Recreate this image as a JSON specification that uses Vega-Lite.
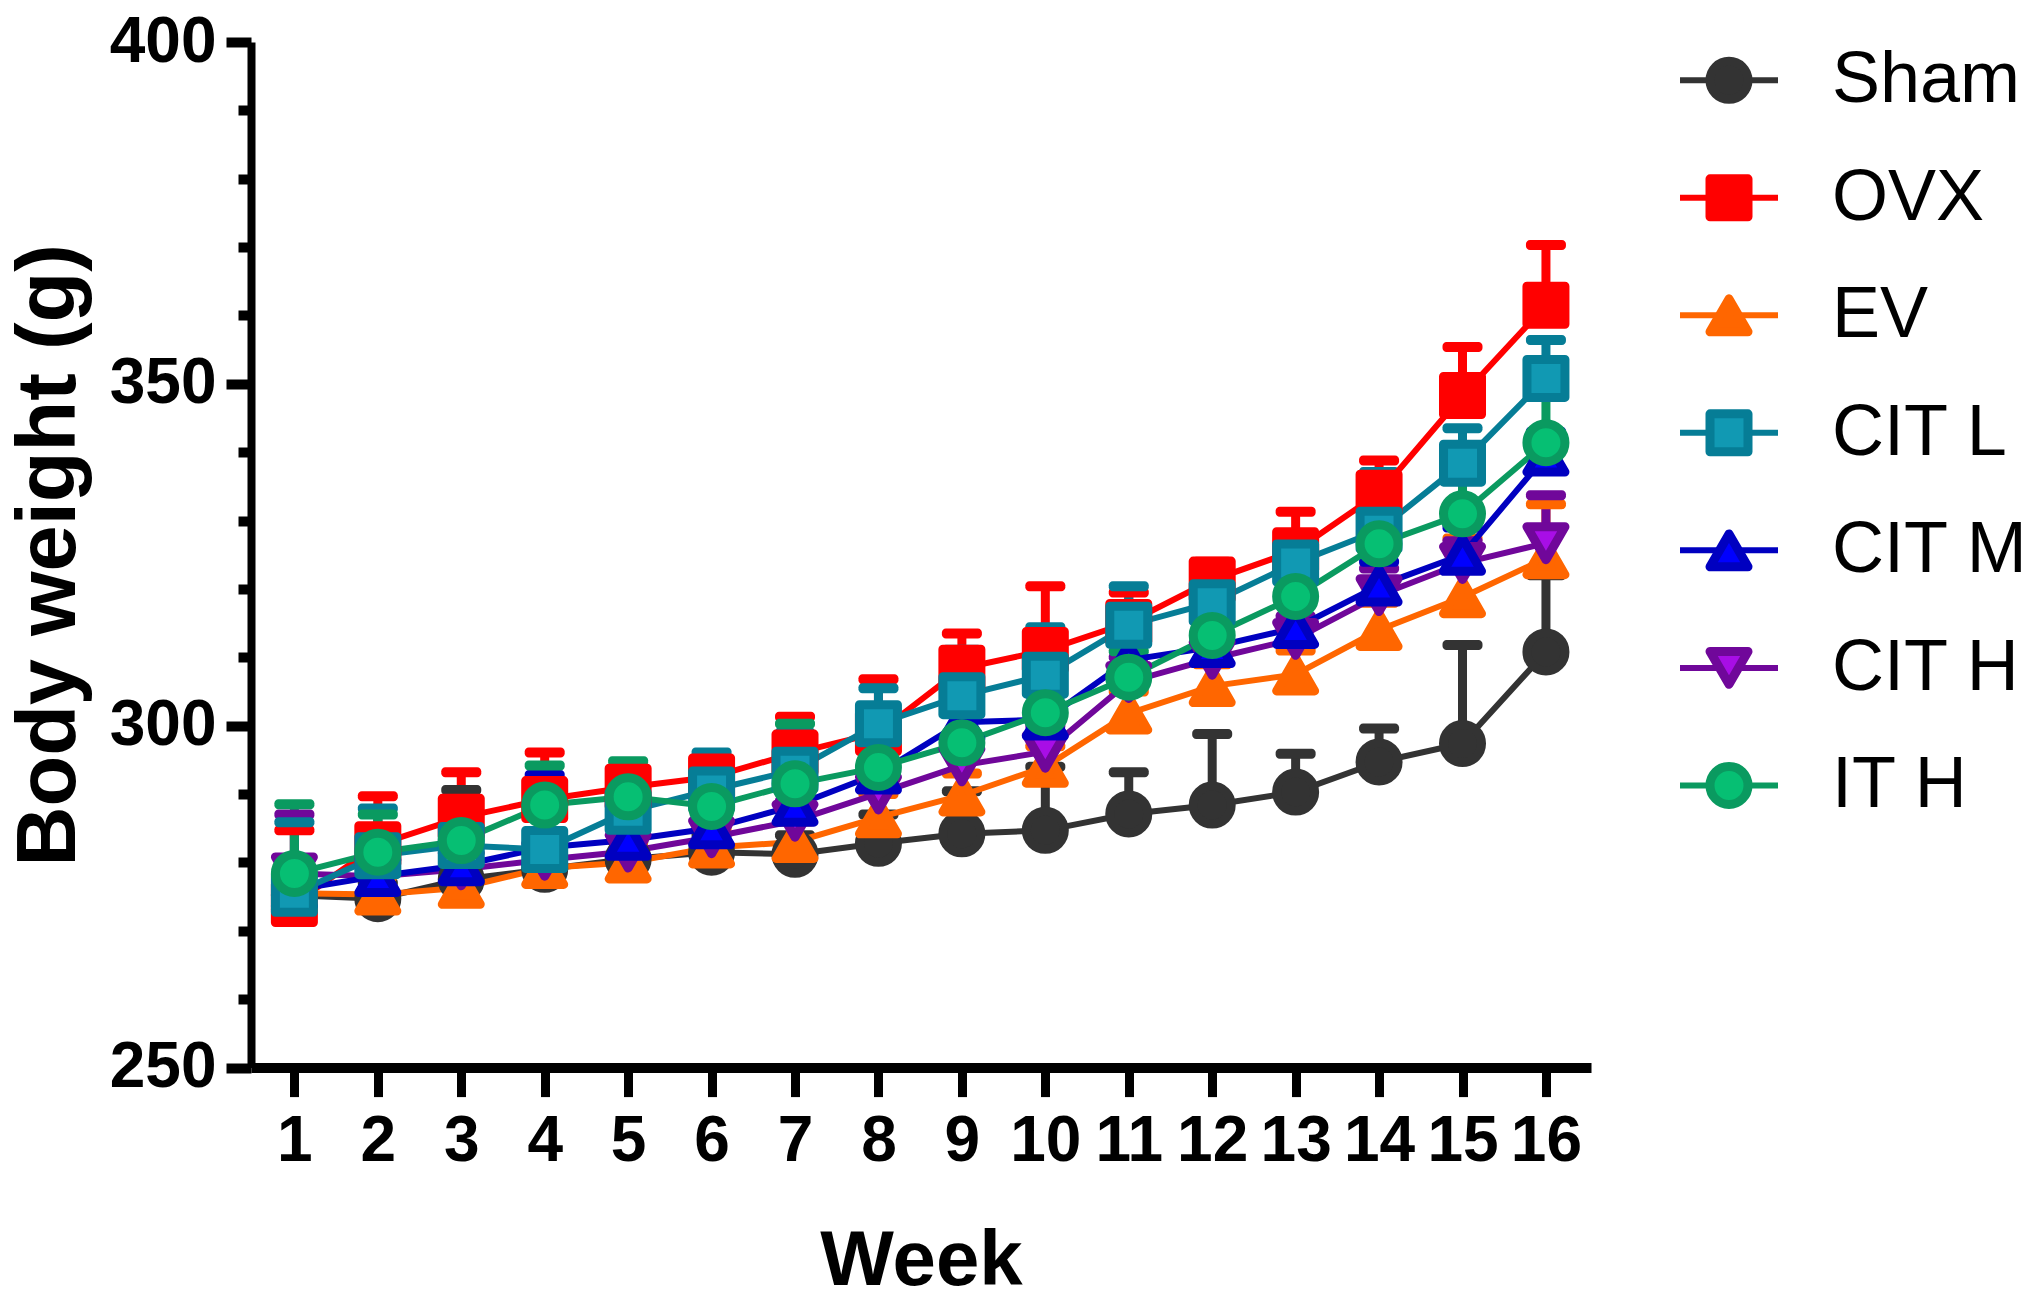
{
  "$schema": "https://vega.github.io/schema/vega-lite/v6.json",
  "background": "white",
  "padding": {"left": 8, "top": 10, "right": 0, "bottom": 0},
  "bounds": "flush",
  "spacing": 89,
  "config": {
    "view": {"stroke": null},
    "axis": {
      "grid": false,
      "domainColor": "black",
      "tickColor": "black",
      "labelColor": "black",
      "titleColor": "black"
    }
  },
  "datasets": {
    "bw": [
      {"g": "Sham", "w": 1, "m": 275.2, "hi": 277},
      {"g": "Sham", "w": 2, "m": 274.7, "hi": 277},
      {"g": "Sham", "w": 3, "m": 277.5, "hi": 290.6},
      {"g": "Sham", "w": 4, "m": 279, "hi": 281},
      {"g": "Sham", "w": 5, "m": 280.5, "hi": 283},
      {"g": "Sham", "w": 6, "m": 281.5, "hi": 284},
      {"g": "Sham", "w": 7, "m": 281.2, "hi": 284},
      {"g": "Sham", "w": 8, "m": 282.8, "hi": 287},
      {"g": "Sham", "w": 9, "m": 284.2, "hi": 290.4},
      {"g": "Sham", "w": 10, "m": 284.7, "hi": 294},
      {"g": "Sham", "w": 11, "m": 287.1, "hi": 293.2},
      {"g": "Sham", "w": 12, "m": 288.4, "hi": 298.8},
      {"g": "Sham", "w": 13, "m": 290.3, "hi": 295.9},
      {"g": "Sham", "w": 14, "m": 294.7, "hi": 299.6},
      {"g": "Sham", "w": 15, "m": 297.4, "hi": 311.8},
      {"g": "Sham", "w": 16, "m": 310.8, "hi": 322},
      {"g": "OVX", "w": 1, "m": 274, "hi": 284.7},
      {"g": "OVX", "w": 2, "m": 282.6, "hi": 289.7},
      {"g": "OVX", "w": 3, "m": 286.6, "hi": 293.2},
      {"g": "OVX", "w": 4, "m": 289.2, "hi": 296.1},
      {"g": "OVX", "w": 5, "m": 291, "hi": 294},
      {"g": "OVX", "w": 6, "m": 292.5, "hi": 295},
      {"g": "OVX", "w": 7, "m": 296, "hi": 301.3},
      {"g": "OVX", "w": 8, "m": 299, "hi": 306.8},
      {"g": "OVX", "w": 9, "m": 308.4, "hi": 313.5},
      {"g": "OVX", "w": 10, "m": 311, "hi": 320.4},
      {"g": "OVX", "w": 11, "m": 315.1, "hi": 319.5},
      {"g": "OVX", "w": 12, "m": 321.3, "hi": 324},
      {"g": "OVX", "w": 13, "m": 325.6, "hi": 331.3},
      {"g": "OVX", "w": 14, "m": 334, "hi": 338.8},
      {"g": "OVX", "w": 15, "m": 348.3, "hi": 355.4},
      {"g": "OVX", "w": 16, "m": 361.5, "hi": 370.3},
      {"g": "EV", "w": 1, "m": 275.5, "hi": 278},
      {"g": "EV", "w": 2, "m": 275.3, "hi": 278},
      {"g": "EV", "w": 3, "m": 276.3, "hi": 279},
      {"g": "EV", "w": 4, "m": 279.2, "hi": 282},
      {"g": "EV", "w": 5, "m": 280, "hi": 283},
      {"g": "EV", "w": 6, "m": 282.2, "hi": 285},
      {"g": "EV", "w": 7, "m": 283, "hi": 286},
      {"g": "EV", "w": 8, "m": 286.6, "hi": 290},
      {"g": "EV", "w": 9, "m": 289.8, "hi": 293},
      {"g": "EV", "w": 10, "m": 294, "hi": 297},
      {"g": "EV", "w": 11, "m": 301.8, "hi": 305},
      {"g": "EV", "w": 12, "m": 305.8, "hi": 309},
      {"g": "EV", "w": 13, "m": 307.5, "hi": 311},
      {"g": "EV", "w": 14, "m": 314, "hi": 318},
      {"g": "EV", "w": 15, "m": 318.8, "hi": 327.4},
      {"g": "EV", "w": 16, "m": 324.5, "hi": 332.4},
      {"g": "CIT H", "w": 1, "m": 278.4, "hi": 287},
      {"g": "CIT H", "w": 2, "m": 278, "hi": 281},
      {"g": "CIT H", "w": 3, "m": 279, "hi": 282},
      {"g": "CIT H", "w": 4, "m": 280.4, "hi": 283},
      {"g": "CIT H", "w": 5, "m": 281.6, "hi": 284},
      {"g": "CIT H", "w": 6, "m": 283.7, "hi": 287},
      {"g": "CIT H", "w": 7, "m": 286.1, "hi": 289},
      {"g": "CIT H", "w": 8, "m": 290.1, "hi": 293},
      {"g": "CIT H", "w": 9, "m": 294.2, "hi": 297},
      {"g": "CIT H", "w": 10, "m": 296.2, "hi": 300},
      {"g": "CIT H", "w": 11, "m": 306.4, "hi": 310},
      {"g": "CIT H", "w": 12, "m": 309.8, "hi": 313},
      {"g": "CIT H", "w": 13, "m": 312.7, "hi": 316},
      {"g": "CIT H", "w": 14, "m": 319.1, "hi": 323},
      {"g": "CIT H", "w": 15, "m": 323.8, "hi": 327},
      {"g": "CIT H", "w": 16, "m": 326.7, "hi": 333.7},
      {"g": "CIT M", "w": 1, "m": 276, "hi": 279},
      {"g": "CIT M", "w": 2, "m": 278, "hi": 281},
      {"g": "CIT M", "w": 3, "m": 279.6, "hi": 283},
      {"g": "CIT M", "w": 4, "m": 282.2, "hi": 292.8},
      {"g": "CIT M", "w": 5, "m": 283.3, "hi": 291.5},
      {"g": "CIT M", "w": 6, "m": 285, "hi": 288},
      {"g": "CIT M", "w": 7, "m": 288.3, "hi": 292},
      {"g": "CIT M", "w": 8, "m": 293, "hi": 297},
      {"g": "CIT M", "w": 9, "m": 300.5, "hi": 304},
      {"g": "CIT M", "w": 10, "m": 300.9, "hi": 304.5},
      {"g": "CIT M", "w": 11, "m": 309.6, "hi": 313},
      {"g": "CIT M", "w": 12, "m": 311.5, "hi": 315},
      {"g": "CIT M", "w": 13, "m": 314.3, "hi": 318},
      {"g": "CIT M", "w": 14, "m": 320.5, "hi": 324},
      {"g": "CIT M", "w": 15, "m": 325, "hi": 329},
      {"g": "CIT M", "w": 16, "m": 339.5, "hi": 343},
      {"g": "CIT L", "w": 1, "m": 275.5, "hi": 285.9},
      {"g": "CIT L", "w": 2, "m": 281, "hi": 287.9},
      {"g": "CIT L", "w": 3, "m": 282.5, "hi": 288},
      {"g": "CIT L", "w": 4, "m": 281.9, "hi": 288},
      {"g": "CIT L", "w": 5, "m": 287.5, "hi": 292},
      {"g": "CIT L", "w": 6, "m": 290.6, "hi": 296.1},
      {"g": "CIT L", "w": 7, "m": 293.5, "hi": 299},
      {"g": "CIT L", "w": 8, "m": 300.3, "hi": 305.5},
      {"g": "CIT L", "w": 9, "m": 304.4, "hi": 311.1},
      {"g": "CIT L", "w": 10, "m": 307.4, "hi": 314.4},
      {"g": "CIT L", "w": 11, "m": 314.7, "hi": 320.4},
      {"g": "CIT L", "w": 12, "m": 318, "hi": 322.9},
      {"g": "CIT L", "w": 13, "m": 323.8, "hi": 327.5},
      {"g": "CIT L", "w": 14, "m": 328.6, "hi": 337.1},
      {"g": "CIT L", "w": 15, "m": 338.4, "hi": 343.5},
      {"g": "CIT L", "w": 16, "m": 350.8, "hi": 356.4},
      {"g": "IT H", "w": 1, "m": 278.4, "hi": 288.5},
      {"g": "IT H", "w": 2, "m": 281.5, "hi": 287},
      {"g": "IT H", "w": 3, "m": 283.2, "hi": 288.5},
      {"g": "IT H", "w": 4, "m": 288.4, "hi": 294.2},
      {"g": "IT H", "w": 5, "m": 289.6, "hi": 294.8},
      {"g": "IT H", "w": 6, "m": 288.2, "hi": 293.2},
      {"g": "IT H", "w": 7, "m": 291.5, "hi": 300.3},
      {"g": "IT H", "w": 8, "m": 293.9, "hi": 298},
      {"g": "IT H", "w": 9, "m": 297.5, "hi": 303.9},
      {"g": "IT H", "w": 10, "m": 301.9, "hi": 308.5},
      {"g": "IT H", "w": 11, "m": 307.1, "hi": 310.9},
      {"g": "IT H", "w": 12, "m": 313.2, "hi": 316.6},
      {"g": "IT H", "w": 13, "m": 318.9, "hi": 324},
      {"g": "IT H", "w": 14, "m": 326.6, "hi": 331.8},
      {"g": "IT H", "w": 15, "m": 331, "hi": 338.5},
      {"g": "IT H", "w": 16, "m": 341.4, "hi": 350.2}
    ],
    "keys": [
      {"g": "Sham"}, {"g": "OVX"}, {"g": "EV"}, {"g": "CIT L"},
      {"g": "CIT M"}, {"g": "CIT H"}, {"g": "IT H"}
    ]
  },
  "hconcat": [
    {
      "width": 1340,
      "height": 1025.6,
      "data": {"name": "bw"},
      "encoding": {
        "x": {
          "field": "w",
          "type": "quantitative",
          "scale": {"domain": [0.48, 16.54], "nice": false, "zero": false},
          "axis": {
            "values": [1, 2, 3, 4, 5, 6, 7, 8, 9, 10, 11, 12, 13, 14, 15, 16],
            "format": "d",
            "title": "Week",
            "domainWidth": 10,
            "tickWidth": 9,
            "tickSize": 29,
            "labelFont": "Liberation Sans",
            "labelFontWeight": "bold",
            "labelFontSize": 64,
            "labelPadding": 13,
            "labelOverlap": false,
            "labelFlush": false,
            "titleFont": "Liberation Sans",
            "titleFontWeight": "bold",
            "titleFontSize": 78,
            "titlePadding": 49
          }
        }
      },
      "layer": [
        {
          "mark": {"type": "rule", "strokeWidth": 9},
          "encoding": {
            "y": {"field": "m", "type": "quantitative"},
            "y2": {"field": "hi"},
            "color": {"field": "g", "type": "nominal", "legend": null,
              "scale": {"domain": ["Sham", "OVX", "EV", "CIT L", "CIT M", "CIT H", "IT H"],
                "range": ["#333333", "#ff0000", "#ff6600", "#067d96", "#0000c0", "#70079a", "#0a9a60"]}}
          }
        },
        {
          "mark": {"type": "tick", "orient": "horizontal", "size": 40, "thickness": 10, "cornerRadius": 4, "opacity": 1},
          "encoding": {
            "y": {"field": "hi", "type": "quantitative"},
            "color": {"field": "g", "type": "nominal", "legend": null}
          }
        },
        {
          "mark": {"type": "line", "strokeWidth": 6},
          "encoding": {
            "y": {"field": "m", "type": "quantitative"},
            "color": {"field": "g", "type": "nominal", "legend": null}
          }
        },
        {
          "mark": {"type": "point", "filled": true, "opacity": 1, "size": 1444, "strokeWidth": 9, "strokeJoin": "round"},
          "encoding": {
            "y": {
              "field": "m",
              "type": "quantitative",
              "scale": {"domain": [250, 400], "nice": false, "zero": false},
              "axis": {
                "values": [250, 260, 270, 280, 290, 300, 310, 320, 330, 340, 350, 360, 370, 380, 390, 400],
                "labelExpr": "datum.value % 50 === 0 ? datum.label : ''",
                "title": "Body weight (g)",
                "domainWidth": 8,
                "tickWidth": 10,
                "tickSize": {"condition": {"test": "datum.value % 50 === 0", "value": 25}, "value": 13},
                "labelFont": "Liberation Sans",
                "labelFontWeight": "bold",
                "labelFontSize": 64,
                "labelPadding": 10,
                "labelOverlap": false,
                "labelFlush": false,
                "titleFont": "Liberation Sans",
                "titleFontWeight": "bold",
                "titleFontSize": 83,
                "titlePadding": 18
              }
            },
            "stroke": {"field": "g", "type": "nominal", "legend": null,
              "scale": {"domain": ["Sham", "OVX", "EV", "CIT L", "CIT M", "CIT H", "IT H"],
                "range": ["#333333", "#ff0000", "#ff6600", "#067d96", "#0000c0", "#70079a", "#0a9a60"]}},
            "fill": {"field": "g", "type": "nominal", "legend": null,
              "scale": {"domain": ["Sham", "OVX", "EV", "CIT L", "CIT M", "CIT H", "IT H"],
                "range": ["#333333", "#ff0000", "#ff6600", "#1199b3", "#0000ff", "#a80ee6", "#06bf73"]}},
            "shape": {"field": "g", "type": "nominal", "legend": null,
              "scale": {"domain": ["Sham", "OVX", "EV", "CIT L", "CIT M", "CIT H", "IT H"],
                "range": ["circle", "square", "triangle-up", "square", "triangle-up", "triangle-down", "circle"]}}
          }
        }
      ]
    },
    {
      "width": 98,
      "height": 781.7,
      "data": {"name": "keys"},
      "encoding": {
        "y": {"field": "g", "type": "nominal", "axis": null,
          "scale": {"type": "point", "domain": ["Sham", "OVX", "EV", "CIT L", "CIT M", "CIT H", "IT H"], "padding": 0.326}}
      },
      "layer": [
        {
          "mark": {"type": "rule", "strokeWidth": 6},
          "encoding": {
            "x": {"datum": 0, "type": "quantitative", "scale": {"domain": [0, 2], "nice": false, "zero": false}, "axis": null},
            "x2": {"datum": 2},
            "color": {"field": "g", "type": "nominal", "legend": null,
              "scale": {"domain": ["Sham", "OVX", "EV", "CIT L", "CIT M", "CIT H", "IT H"],
                "range": ["#333333", "#ff0000", "#ff6600", "#067d96", "#0000c0", "#70079a", "#0a9a60"]}}
          }
        },
        {
          "mark": {"type": "point", "filled": true, "opacity": 1, "size": 1444, "strokeWidth": 9, "strokeJoin": "round"},
          "encoding": {
            "x": {"datum": 1, "type": "quantitative"},
            "stroke": {"field": "g", "type": "nominal", "legend": null,
              "scale": {"domain": ["Sham", "OVX", "EV", "CIT L", "CIT M", "CIT H", "IT H"],
                "range": ["#333333", "#ff0000", "#ff6600", "#067d96", "#0000c0", "#70079a", "#0a9a60"]}},
            "fill": {"field": "g", "type": "nominal", "legend": null,
              "scale": {"domain": ["Sham", "OVX", "EV", "CIT L", "CIT M", "CIT H", "IT H"],
                "range": ["#333333", "#ff0000", "#ff6600", "#1199b3", "#0000ff", "#a80ee6", "#06bf73"]}},
            "shape": {"field": "g", "type": "nominal", "legend": null,
              "scale": {"domain": ["Sham", "OVX", "EV", "CIT L", "CIT M", "CIT H", "IT H"],
                "range": ["circle", "square", "triangle-up", "square", "triangle-up", "triangle-down", "circle"]}}
          }
        },
        {
          "mark": {"type": "text", "align": "left", "baseline": "middle", "dx": 54, "font": "Liberation Sans", "fontSize": 72, "color": "black"},
          "encoding": {
            "x": {"datum": 2, "type": "quantitative"},
            "text": {"field": "g"}
          }
        }
      ]
    }
  ]
}
